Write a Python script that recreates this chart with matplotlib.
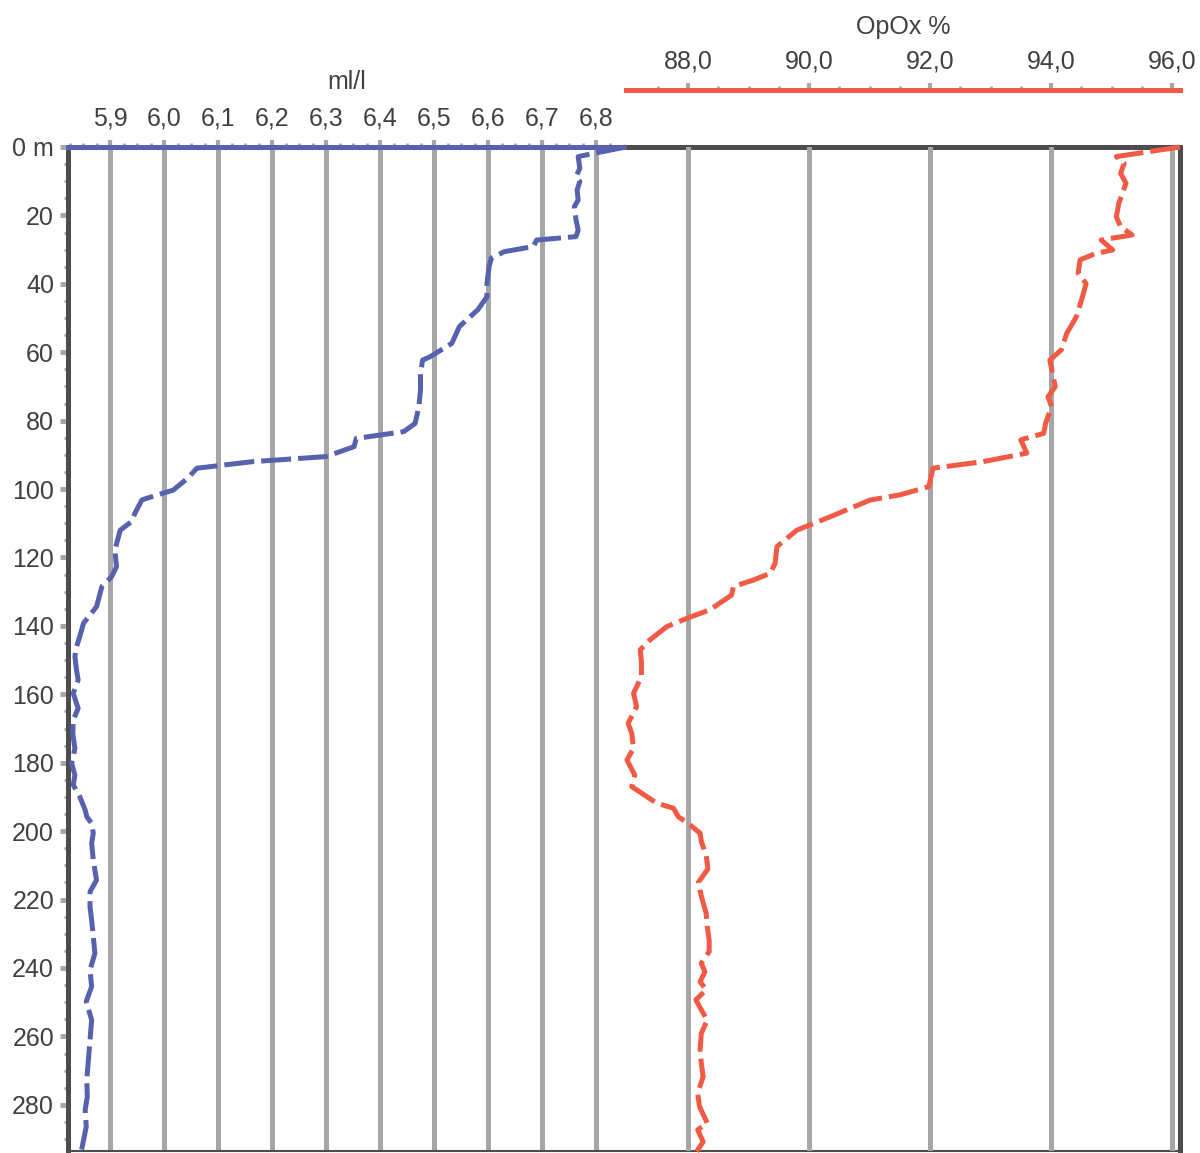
import matplotlib
matplotlib.use("Agg")
import matplotlib.pyplot as plt
import numpy as np

plt.rcParams['font.family'] = ['Liberation Sans', 'DejaVu Sans']

# --- oxygen, ml/l (blue) ---
depth_ml = [0, 2.8, 6.2, 8.7, 10.1, 12.6, 15.5, 17.4, 21.3, 24.3, 26.2, 27.2, 29.1, 30.6,
            32.5, 35.0, 39.9, 43.8, 47.6, 52.5, 57.4, 61.3, 62.3, 66.1, 71.0, 75.9, 80.8,
            83.2, 85.2, 87.6, 90.5, 92.0, 93.9, 96.8, 100.3, 102.7, 103.2, 107.1, 109.5,
            112.0, 117.8, 122.7, 125.6, 128.5, 134.4, 136.8, 139.2, 143.1, 146.1, 149.0,
            152.9, 155.8, 159.7, 164.1, 167.5, 171.4, 175.8, 180.2, 183.6, 186.5, 189.9,
            193.8, 195.8, 197.7, 200.6, 203.5, 208.4, 214.3, 217.7, 222.1, 226.0, 230.8,
            235.7, 240.6, 245.4, 249.8, 255.2, 261.0, 266.9, 272.7, 277.6, 281.5, 286.4,
            292.7, 294.0]
ml_l = [6.855, 6.767, 6.770, 6.763, 6.770, 6.765, 6.767, 6.760, 6.763, 6.767, 6.763, 6.690,
        6.684, 6.630, 6.606, 6.602, 6.598, 6.598, 6.581, 6.547, 6.533, 6.493, 6.479, 6.475,
        6.475, 6.472, 6.465, 6.444, 6.356, 6.352, 6.300, 6.163, 6.061, 6.044, 6.017, 5.968,
        5.959, 5.946, 5.940, 5.919, 5.909, 5.912, 5.903, 5.885, 5.875, 5.863, 5.851, 5.844,
        5.838, 5.835, 5.838, 5.841, 5.832, 5.841, 5.832, 5.831, 5.835, 5.829, 5.835, 5.832,
        5.844, 5.854, 5.857, 5.866, 5.869, 5.866, 5.869, 5.875, 5.863, 5.863, 5.866, 5.869,
        5.872, 5.863, 5.866, 5.856, 5.866, 5.863, 5.860, 5.857, 5.858, 5.854, 5.856, 5.848,
        5.846]

# --- oxygen saturation, % (red) ---
depth_pct = [0, 2.8, 4.8, 7.7, 10.6, 13.5, 16.5, 20.4, 23.3, 25.7, 27.2, 30.1, 31.1, 33.0,
             36.9, 39.9, 43.8, 49.6, 54.5, 59.3, 62.3, 70.1, 73.0, 75.9, 80.8, 83.7, 85.6,
             89.5, 92.0, 93.9, 99.3, 101.7, 103.2, 108.1, 112.0, 116.8, 121.7, 124.6, 126.6,
             128.5, 131.0, 135.3, 137.8, 140.2, 144.1, 147.0, 150.4, 154.8, 159.7, 163.6,
             168.5, 171.4, 175.8, 179.2, 183.6, 187.0, 189.9, 191.8, 193.3, 195.8, 197.7,
             200.6, 203.0, 207.0, 211.0, 215.0, 219.0, 224.0, 228.0, 232.0, 235.2, 238.6,
             241.1, 244.0, 246.4, 249.3, 253.2, 255.2, 259.1, 264.0, 267.8, 271.8, 276.6,
             280.5, 285.4, 287.3, 290.8, 294.0]
opox = [96.13, 95.08, 95.21, 95.15, 95.24, 95.18, 95.12, 95.08, 95.15, 95.34, 94.83, 95.02,
        94.74, 94.48, 94.45, 94.58, 94.52, 94.42, 94.26, 94.17, 93.98, 94.07, 93.95, 94.01,
        93.91, 93.88, 93.50, 93.60, 92.87, 92.05, 91.98, 91.50, 91.01, 90.35, 89.80, 89.47,
        89.44, 89.36, 89.08, 88.75, 88.72, 88.36, 87.98, 87.65, 87.37, 87.21, 87.23, 87.23,
        87.10, 87.15, 87.01, 87.07, 87.10, 86.99, 87.12, 87.07, 87.32, 87.48, 87.76, 87.84,
        88.00, 88.20, 88.22, 88.30, 88.33, 88.17, 88.22, 88.30, 88.32, 88.35, 88.35, 88.22,
        88.28, 88.20, 88.30, 88.13, 88.25, 88.32, 88.22, 88.20, 88.22, 88.25, 88.16, 88.19,
        88.32, 88.16, 88.25, 88.13]

ml_ticks = [5.9, 6.0, 6.1, 6.2, 6.3, 6.4, 6.5, 6.6, 6.7, 6.8]
pct_ticks = [88, 90, 92, 94, 96]
depth_ticks = list(range(0, 281, 20))

blue = '#5662ad'
red = '#f15a45'
grid = '#a6a6a9'
dark = '#4d4d4f'
txt = '#404040'

W, H = 1200, 1153
fig = plt.figure(figsize=(W / 100, H / 100), dpi=100)
ax = fig.add_axes([68 / W, 2 / H, (1180 - 68) / W, (1151 - 147) / H])

# blue axis: 5.9 at px 110, 0.1 per 54 px
ml_left = 5.9 - 42 / 540
ml_right = ml_left + 1112 / 540
ml_end = 5.9 + 516 / 540
# red axis: 88 at px 688, 60.5 px per %
pct_left = 88 - 620 / 60.5
pct_right = 88 + 492 / 60.5
pct_start = 88 - 62 / 60.5

ax.set_xlim(ml_left, ml_right)
ax.set_ylim(293.5, 0)

ax2 = ax.twiny()
ax2.set_xlim(pct_left, pct_right)

# gridlines
for v in ml_ticks:
    ax.axvline(v, color=grid, lw=3.6, zorder=1)
for v in pct_ticks:
    ax2.axvline(v, color=grid, lw=3.6, zorder=1)

# data
ax.plot(ml_l, depth_ml, color=blue, lw=3.6, dashes=(6, 1.4), zorder=3, clip_on=False)
ax2.plot(opox, depth_pct, color=red, lw=3.6, dashes=(6, 1.4), zorder=3, clip_on=False)

# spines
for s in ['left', 'right']:
    ax.spines[s].set_color(dark)
    ax.spines[s].set_linewidth(3.6)
ax.spines['bottom'].set_color(dark)
ax.spines['bottom'].set_linewidth(1.5)
ax.spines['top'].set_color(blue)
ax.spines['top'].set_linewidth(3.6)
ax.spines['top'].set_bounds(ml_left, ml_end)
ax.plot([ml_end, ml_right], [0, 0], color=dark, lw=3.6, clip_on=False, zorder=4,
        solid_capstyle='butt')
for s in ['left', 'right', 'bottom']:
    ax2.spines[s].set_visible(False)
ax2.spines['top'].set_position(('outward', 41))
ax2.spines['top'].set_color(red)
ax2.spines['top'].set_linewidth(3.6)
ax2.spines['top'].set_bounds(pct_start, pct_right)

# ticks
ax.xaxis.tick_top()
ax.set_xticks(ml_ticks)
ax.set_xticklabels([f"{v:.1f}".replace('.', ',') for v in ml_ticks])
ax.set_xticks(np.arange(5.825, 6.85, 0.025), minor=True)
ax.tick_params(axis='x', which='major', top=True, bottom=False, direction='out',
               length=5, width=3, color=grid, labelsize=18, labelcolor=txt, pad=7)
ax.tick_params(axis='x', which='minor', top=True, bottom=False, direction='out',
               length=3, width=2, color=grid)

ax.set_yticks(depth_ticks)
ax.set_yticklabels(['0 m'] + [str(d) for d in depth_ticks[1:]])
ax.set_yticks(np.arange(5, 294, 5), minor=True)
ax.tick_params(axis='y', which='major', left=True, right=False, direction='out',
               length=6, width=3.5, color=grid, labelsize=18, labelcolor=txt, pad=4)
ax.tick_params(axis='y', which='minor', left=True, direction='out',
               length=3, width=2, color=grid)

ax2.set_xticks(pct_ticks)
ax2.set_xticklabels([f"{v:.1f}".replace('.', ',') for v in pct_ticks])
ax2.set_xticks(np.arange(87.5, 96.1, 0.5), minor=True)
ax2.tick_params(axis='x', which='major', direction='out', length=5, width=3,
                color=grid, labelsize=18, labelcolor=txt, pad=7)
ax2.tick_params(axis='x', which='minor', direction='out', length=3, width=2, color=grid)

# axis titles
fig.text(347 / W, 1 - 82 / H, 'ml/l', ha='center', va='center', fontsize=18, color=txt)
fig.text(903 / W, 1 - 27 / H, 'OpOx %', ha='center', va='center', fontsize=18, color=txt)

fig.savefig('out.png', dpi=100, facecolor='white')
